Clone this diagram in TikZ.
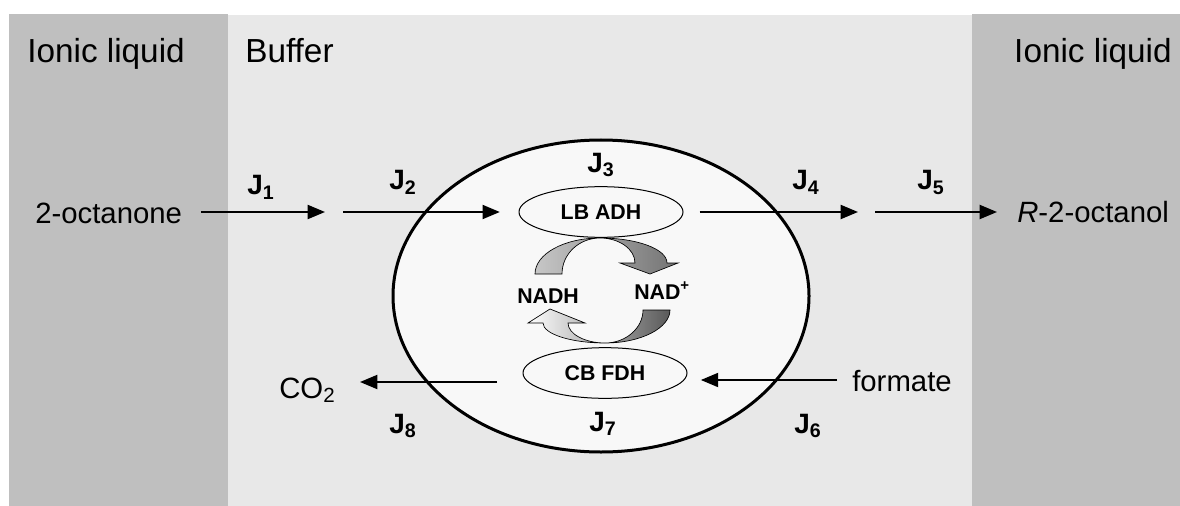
\documentclass[tikz,border=0pt]{standalone}
\usepackage{fontspec}
\setmainfont{Liberation Sans}
\usetikzlibrary{arrows.meta,shapes.geometric}
\definecolor{ilgray}{RGB}{191,191,191}
\definecolor{bufgray}{RGB}{232,232,232}
\definecolor{cellgray}{RGB}{248,248,248}
\tikzset{
  phase/.style={font=\fontsize{25}{30}\selectfont, inner sep=0pt},
  chem/.style={font=\fontsize{22}{26}\selectfont, inner sep=0pt},
  flux/.style={font=\bfseries\fontsize{21}{24}\selectfont, inner sep=0pt},
  cofactor/.style={font=\bfseries\fontsize{16}{19}\selectfont, inner sep=0pt},
  enzyme/.style={draw, ellipse, line width=0.75pt, inner sep=0pt,
    minimum width=123pt, minimum height=38pt, font=\bfseries\fontsize{16}{19}\selectfont},
  flow/.style={line width=1.5pt, -{Triangle[length=13pt,width=10.5pt]}},
  turn/.style={draw=black, line width=0.5pt},
}
\begin{document}
\begin{tikzpicture}[x=0.75pt,y=-0.75pt]
\useasboundingbox (0,0) rectangle (1180,506);
% phases
\fill[ilgray] (9,14) rectangle (228,506);
\fill[bufgray] (228,15) rectangle (972,506);
\fill[ilgray] (972,14) rectangle (1180,506);
\node[phase, anchor=base west] (ilL) at (27,63) {Ionic liquid};
\node[phase, anchor=base west] (buf) at (245,63) {Buffer};
\node[phase, anchor=base east] (ilR) at (1172,63) {Ionic liquid};

% cell with the two enzymes
\draw[line width=2.25pt, fill=cellgray] (601,296) ellipse [x radius=208, y radius=156];
\node[enzyme] (adh) at (601,212) {LB ADH};
\node[enzyme] (fdh) at (605,373) {CB FDH};

% cofactor cycle
\draw[turn, left color=black!22, right color=black!55]
  (535,274) .. controls (535,254) and (564,238) .. (600,238)
  .. controls (637,238) and (667,249) .. (667,263)
  -- (678,263) -- (650,274) -- (620,263) -- (635,263)
  .. controls (635,249) and (619,238) .. (600,238)
  .. controls (579,238) and (562,254) .. (562,274) -- cycle;
\draw[turn, left color=white, right color=black!65]
  (670,310) .. controls (670,328) and (641,343) .. (605,343)
  .. controls (571,343) and (543,334) .. (543,323)
  -- (528,323) -- (550,309) -- (585,323) -- (568,323)
  .. controls (568,334) and (585,343) .. (605,343)
  .. controls (626,343) and (643,328) .. (643,310) -- cycle;
\node[cofactor, anchor=base west] (nadh) at (517,303) {NADH};
\node[cofactor, anchor=base west] (nad) at (634,299) {NAD\textsuperscript{+}};

% substrates and products
\node[chem, anchor=base west] (oct) at (35,223) {2-octanone};
\node[chem, anchor=base west] (rol) at (1017,222) {\textit{R}-2-octanol};
\node[chem, anchor=base west] (co2) at (279,398) {CO\textsubscript{2}};
\node[chem, anchor=base west] (form) at (852,391) {formate};

\coordinate (inL) at (325,212);
\coordinate (inB) at (343,212);
\coordinate (outB) at (858,212);
\coordinate (outR) at (875,212);
\coordinate (co2in) at (360,382);
\coordinate (fin) at (837,380);

\draw[flow, shorten <=14pt] (oct.east |- inL) -- (inL);
\draw[flow, shorten >=14pt] (inB) -- (inB -| adh.west);
\draw[flow, shorten <=12pt] (adh.east) -- (outB);
\draw[flow, shorten >=15pt] (outR) -- (outR -| rol.west);
\draw[flow, shorten <=19pt] (fdh.west |- co2in) -- (co2in);
\draw[flow, shorten >=10pt] (fin) -- (fin -| fdh.east);

% fluxes
\node[flux, anchor=base west] (j1) at (247,195) {J\textsubscript{1}};
\node[flux, anchor=base west] (j2) at (389,190) {J\textsubscript{2}};
\node[flux, anchor=base west] (j3) at (587,172) {J\textsubscript{3}};
\node[flux, anchor=base west] (j4) at (792,190) {J\textsubscript{4}};
\node[flux, anchor=base west] (j5) at (917,190) {J\textsubscript{5}};
\node[flux, anchor=base west] (j6) at (794,433) {J\textsubscript{6}};
\node[flux, anchor=base west] (j7) at (589,431) {J\textsubscript{7}};
\node[flux, anchor=base west] (j8) at (389,433) {J\textsubscript{8}};
\end{tikzpicture}
\end{document}
